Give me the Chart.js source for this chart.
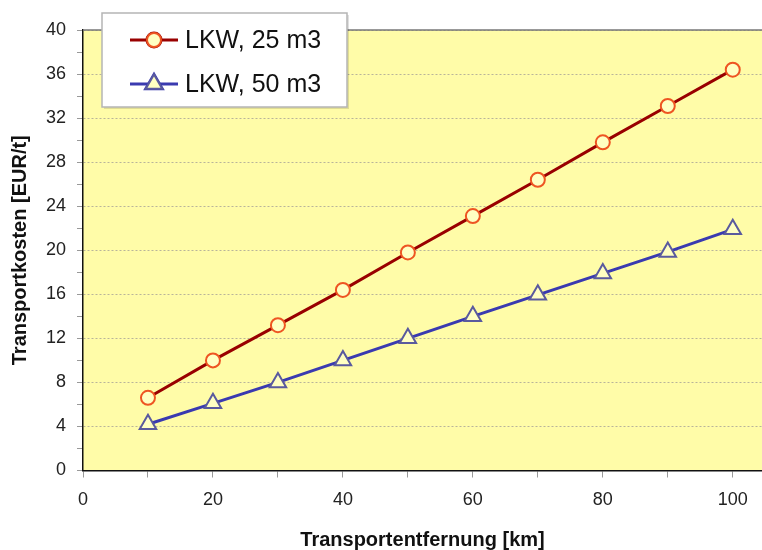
<!DOCTYPE html>
<html>
<head>
<meta charset="utf-8">
<script src="https://cdn.jsdelivr.net/npm/chart.js@4/dist/chart.umd.min.js"></script>
<style>
    html, body { margin: 0; padding: 0; background: #fff; overflow: hidden; }
    #wrap { width: 762px; height: 550px; }
</style>
</head>
<body>
<div id="wrap"><canvas id="chart" width="762" height="550"></canvas></div>
<script>
const distances = [10, 20, 30, 40, 50, 60, 70, 80, 90, 100];
const costs25 = [6.6, 10.0, 13.2, 16.4, 19.8, 23.1, 26.4, 29.8, 33.1, 36.4];
const costs50 = [4.2, 6.1, 8.0, 10.0, 12.0, 14.0, 15.95, 17.9, 19.85, 21.9];
const xTicks = [0, 10, 20, 30, 40, 50, 60, 70, 80, 90, 100];
const yTicks = [0, 2, 4, 6, 8, 10, 12, 14, 16, 18, 20, 22, 24, 26, 28, 30, 32, 34, 36, 38, 40];

const seriesNames = ['LKW, 25 m3', 'LKW, 50 m3'];
const FONT = '"Liberation Sans", Arial, sans-serif';
const markerFill = '#FFFFC2';

const toPoints = (ys) => distances.map((d, i) => ({ x: d, y: ys[i] }));

// gelbe Zeichenfläche + obere Linie
const plotBackground = {
    id: 'plotBackground',
    beforeDraw(chart) {
        const { ctx, chartArea: a } = chart;
        ctx.save();
        ctx.fillStyle = '#FFFCA8';
        ctx.fillRect(a.left, a.top, a.right - a.left, a.bottom - a.top);
        ctx.restore();
    },
    afterDraw(chart) {
        const { ctx, chartArea: a } = chart;
        ctx.save();
        ctx.strokeStyle = '#777';
        ctx.lineWidth = 1.5;
        ctx.beginPath();
        ctx.moveTo(a.left, a.top);
        ctx.lineTo(a.right, a.top);
        ctx.stroke();
        ctx.restore();
    }
};

// Legende als Kasten im Diagramm
const boxLegend = {
    id: 'boxLegend',
    afterDraw(chart) {
        const { ctx } = chart;
        const x0 = 102, y0 = 13, w = 245, h = 94;
        ctx.save();
        ctx.fillStyle = 'rgba(0,0,0,0.12)';
        ctx.fillRect(x0 + 2, y0 + 2, w, h);
        ctx.fillStyle = '#fff';
        ctx.fillRect(x0, y0, w, h);
        ctx.strokeStyle = '#b5b5b5';
        ctx.lineWidth = 1.5;
        ctx.strokeRect(x0, y0, w, h);

        chart.data.datasets.forEach((ds, i) => {
            const y = 40 + i * 44;
            ctx.strokeStyle = ds.borderColor;
            ctx.lineWidth = ds.borderWidth;
            ctx.beginPath();
            ctx.moveTo(130, y);
            ctx.lineTo(178, y);
            ctx.stroke();
            Chart.helpers.drawPoint(ctx, {
                pointStyle: ds.pointStyle,
                radius: ds.pointRadius,
                borderWidth: ds.pointBorderWidth,
                rotation: 0
            }, 154, y);
            ctx.fillStyle = ds.pointBackgroundColor;
            ctx.strokeStyle = ds.pointBorderColor;
            ctx.lineWidth = ds.pointBorderWidth;
            ctx.fill();
            ctx.stroke();

            ctx.fillStyle = '#111';
            ctx.font = '25px ' + FONT;
            ctx.textAlign = 'left';
            ctx.textBaseline = 'middle';
            ctx.fillText(seriesNames[i], 185, y + 1);
        });
        ctx.restore();
    }
};

new Chart(document.getElementById('chart'), {
    type: 'line',
    data: {
        datasets: [{
            label: seriesNames[0],
            data: toPoints(costs25),
            borderColor: '#990000',
            borderWidth: 3,
            pointStyle: 'circle',
            pointRadius: 7,
            pointBackgroundColor: markerFill,
            pointBorderColor: '#EE5522',
            pointBorderWidth: 2,
            tension: 0
        }, {
            label: seriesNames[1],
            data: toPoints(costs50),
            borderColor: '#3A3AB0',
            borderWidth: 3,
            pointStyle: 'triangle',
            pointRadius: 9.5,
            pointBackgroundColor: markerFill,
            pointBorderColor: '#5A5A9E',
            pointBorderWidth: 2,
            tension: 0
        }]
    },
    options: {
        responsive: false,
        animation: false,
        layout: { autoPadding: false, padding: { top: 30, left: 0, right: 0, bottom: 0 } },
        plugins: {
            legend: { display: false },
            tooltip: { enabled: false }
        },
        scales: {
            x: {
                type: 'linear',
                min: 0,
                max: 104.5,
                afterBuildTicks: (scale) => { scale.ticks = xTicks.map(v => ({ value: v })); },
                afterFit: (scale) => {
                    scale.height = 79.5;
                    scale.paddingLeft = 0;
                    scale.paddingRight = 0;
                },
                ticks: {
                    autoSkip: false,
                    maxRotation: 0,
                    padding: 12,
                    color: '#222',
                    font: { family: FONT, size: 18 },
                    callback: (v) => (v % 20 === 0 ? v : '')
                },
                grid: {
                    drawOnChartArea: false,
                    drawTicks: true,
                    tickLength: 7,
                    tickColor: '#999'
                },
                border: { display: true, color: '#111', width: 1.5 },
                title: {
                    display: true,
                    text: 'Transportentfernung [km]',
                    color: '#111',
                    font: { family: FONT, size: 20, weight: 'bold', lineHeight: 1 },
                    padding: { top: 0, bottom: 0 }
                }
            },
            y: {
                type: 'linear',
                min: 0,
                max: 40,
                afterBuildTicks: (scale) => { scale.ticks = yTicks.map(v => ({ value: v })); },
                afterFit: (scale) => { scale.width = 83; },
                ticks: {
                    autoSkip: false,
                    padding: 11,
                    color: '#222',
                    font: { family: FONT, size: 18 },
                    callback: (v) => (v % 4 === 0 ? v : '')
                },
                grid: {
                    drawOnChartArea: true,
                    drawTicks: true,
                    tickLength: 6,
                    tickColor: '#999',
                    lineWidth: 1,
                    color: (ctx) => (ctx.tick && ctx.tick.value % 4 === 0 && ctx.tick.value !== 0 ? '#b8b49a' : 'rgba(0,0,0,0)')
                },
                border: { display: true, color: '#111', width: 1.5, dash: [2, 2] },
                title: {
                    display: true,
                    text: 'Transportkosten [EUR/t]',
                    color: '#111',
                    font: { family: FONT, size: 20, weight: 'bold', lineHeight: 1 },
                    padding: { top: 10, bottom: 0 }
                }
            }
        }
    },
    plugins: [plotBackground, boxLegend]
});
</script>
</body>
</html>
